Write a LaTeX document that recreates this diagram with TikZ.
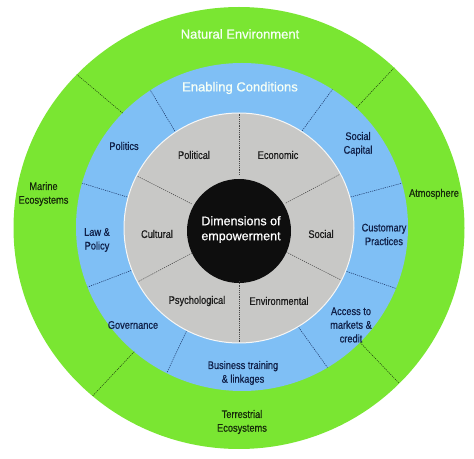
\documentclass[tikz,border=0pt]{standalone}
\usepackage{fontspec}
\usetikzlibrary{calc}
\setmainfont{Liberation Sans}
\newfontfamily\narrowfont{Liberation Sans}[FakeStretch=0.84, FakeBold=0.6]
\newfontfamily\headfont{Liberation Sans}[FakeBold=0.8]
\definecolor{ringgreen}{RGB}{122,230,50}
\definecolor{ringblue}{RGB}{127,191,245}
\definecolor{ringgray}{RGB}{200,200,198}
\definecolor{coreblack}{RGB}{14,14,14}
\definecolor{navytext}{RGB}{16,32,72}
\definecolor{greentext}{RGB}{22,42,10}
\definecolor{graytext}{RGB}{30,30,30}
\definecolor{greendash}{RGB}{30,60,15}
\definecolor{bluedash}{RGB}{25,50,100}
\definecolor{graydash}{RGB}{70,70,70}
\begin{document}
\begin{tikzpicture}[x=1pt,y=1pt,
  lbl/.style={font=\narrowfont\fontsize{11}{13.7}\selectfont, align=center, inner sep=0pt},
  head/.style={font=\headfont\fontsize{13}{15}\selectfont, text=white!96!green, inner sep=0pt},
  divider/.style={line width=0.5pt, dash pattern=on 1.2pt off 1pt}]
\useasboundingbox (0,0) rectangle (474,458);
\coordinate (C) at (239,230);
\coordinate (B) at (242,231);
% rings
\fill[ringgreen] (C) ellipse [x radius=225.5, y radius=221];
\fill[ringblue] (B) ellipse [x radius=166, y radius=164];
\fill[ringgray, draw=white!85!ringgray, line width=1pt] (C) circle [radius=115];
\fill[coreblack] (239,227) circle [radius=52];
% dividers in the gray ring
\foreach \a in {90,28,-27,270,208,153}
  \draw[divider, graydash] ($(C)+(\a:53)$) -- ($(C)+(\a:114)$);
% dividers in the blue ring
\foreach \a in {123.5,57,15.5,-22,-59,243,201.5,164.5}
  \draw[divider, bluedash] ($(C)+(\a:116)$) -- ($(B)+(\a:166 and 164)$);
% dividers in the green ring
\foreach \a in {136,46.5,-44.7,229.5}
  \draw[divider, greendash] ($(B)+(\a:166 and 164)$) -- ($(C)+(\a:225.5 and 221)$);
% headers
\node[head] (natenv) at (240,424) {Natural Environment};
\node[head] (enabling) at (240,370) {Enabling Conditions};
% core
\node[font=\headfont\fontsize{12.5}{15}\selectfont, text=white, align=center, inner sep=0pt] (core) at (241,228.5) {Dimensions of\\empowerment};
% gray ring labels
\node[lbl, text=graytext] (political) at (194,303) {Political};
\node[lbl, text=graytext] (economic) at (278,303) {Economic};
\node[lbl, text=graytext] (cultural) at (157,224) {Cultural};
\node[lbl, text=graytext] (social) at (321,224) {Social};
\node[lbl, text=graytext] (psych) at (197,157) {Psychological};
\node[lbl, text=graytext] (environ) at (279,157) {Environmental};
% blue ring labels
\node[lbl, text=navytext] (politics) at (124,312) {Politics};
\node[lbl, text=navytext] (socialcap) at (358,314) {Social\\Capital};
\node[lbl, text=navytext] (law) at (97,218) {Law \&\\Policy};
\node[lbl, text=navytext] (customary) at (384,223.5) {Customary\\Practices};
\node[lbl, text=navytext] (governance) at (133,133) {Governance};
\node[lbl, text=navytext] (access) at (351,133) {Access to\\markets \&\\credit};
\node[lbl, text=navytext] (business) at (243,85) {Business training\\\& linkages};
% green ring labels
\node[lbl, text=greentext] (marine) at (43.5,264) {Marine\\Ecosystems};
\node[lbl, text=greentext] (atmos) at (434,264) {Atmosphere};
\node[lbl, text=greentext] (terr) at (242,36) {Terrestrial\\Ecosystems};
\end{tikzpicture}
\end{document}
